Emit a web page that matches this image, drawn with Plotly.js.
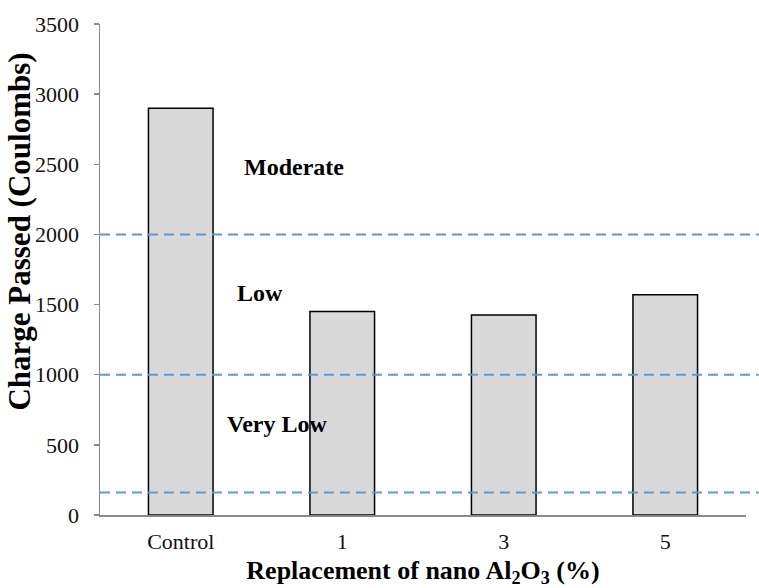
<!DOCTYPE html>
<html>
<head>
<meta charset="utf-8">
<script src="https://cdn.plot.ly/plotly-3.0.1.min.js"></script>
<style>html,body{margin:0;padding:0;background:#fff;}#chart{width:759px;height:588px;}</style>
</head>
<body>
<div id="chart"></div>
<script>
const categories = ['Control', '1', '3', '5'];
const chargePassed = [2900, 1450, 1425, 1570];
const yTickValues = [0, 500, 1000, 1500, 2000, 2500, 3000, 3500];
const thresholds = [2000, 1000, 160];
const zoneLabels = ['Moderate', 'Low', 'Very Low'];
const zoneLabelValues = [2480, 1585, 650];

const serif = 'Liberation Serif, Times New Roman, serif';

const trace = {
  type: 'bar',
  x: categories,
  y: chargePassed,
  width: 0.4,
  marker: {color: '#d9d9d9', line: {color: '#000000', width: 1.5}},
  hoverinfo: 'x+y'
};

const shapes = thresholds.map(v => ({
  type: 'line', xref: 'paper', yref: 'y',
  x0: 0, x1: 1.02, y0: v, y1: v,
  line: {color: '#5b9bd5', width: 2, dash: '10px,6px'},
  layer: 'above'
}));

const zoneX = [0.301, 0.247, 0.2735];
const annotations = zoneLabels.map((t, i) => ({
  text: '<b>' + t + '</b>', xref: 'paper', yref: 'y',
  x: zoneX[i], y: zoneLabelValues[i], showarrow: false,
  xanchor: 'center', yanchor: 'middle',
  font: {family: serif, size: 24, color: '#000'}
}));

annotations.push({
  text: '<b>Charge Passed (Coulombs)</b>', xref: 'paper', yref: 'paper',
  x: -0.124, y: 0.577, showarrow: false, textangle: -90,
  xanchor: 'center', yanchor: 'middle',
  font: {family: serif, size: 31, color: '#000'}
});

const layout = {
  width: 759, height: 588,
  font: {family: serif},
  margin: {l: 100, r: 13, t: 24, b: 73},
  paper_bgcolor: '#ffffff', plot_bgcolor: '#ffffff',
  showlegend: false,
  bargap: 0.6,
  xaxis: {
    type: 'category',
    showline: true, linecolor: '#898989', linewidth: 1.5,
    ticks: '', showgrid: false, zeroline: false,
    tickfont: {family: serif, size: 22, color: '#111'},
    ticklabelstandoff: 6,
    title: {text: '<b>Replacement of nano Al<sub>2</sub>O<sub>3</sub> (%)</b>',
            font: {family: serif, size: 26, color: '#000'}, standoff: 10}
  },
  yaxis: {
    range: [0, 3500],
    tickvals: yTickValues,
    showline: true, linecolor: '#898989', linewidth: 1.5,
    ticks: 'outside', ticklen: 5, tickcolor: '#898989', tickwidth: 1.5,
    showgrid: false, zeroline: false,
    tickfont: {family: serif, size: 22, color: '#111'},
    ticklabelstandoff: 10
  },
  shapes: shapes,
  annotations: annotations
};

Plotly.newPlot('chart', [trace], layout, {displayModeBar: false, staticPlot: true});
</script>
</body>
</html>
